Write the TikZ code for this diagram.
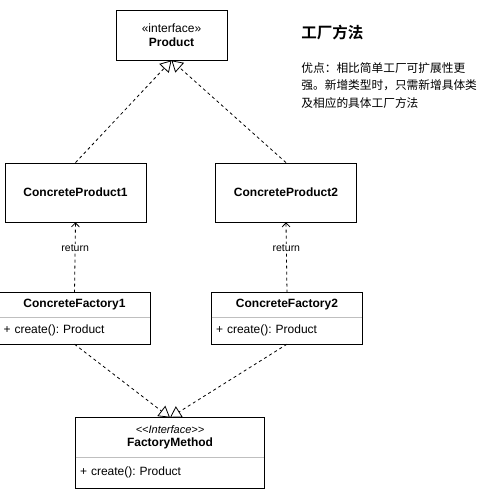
\documentclass[tikz,border=0pt]{standalone}
\usepackage{fontspec}
\setmainfont{Liberation Sans}
\newfontfamily\cjk[BoldFont={Noto Sans CJK SC Bold}]{Noto Sans CJK SC}
\usetikzlibrary{arrows.meta,positioning}
\frenchspacing

\begin{document}
\begin{tikzpicture}[x=1pt,y=-1pt,line width=0.8pt,
    txt/.style={font=\fontsize{12}{13.5}\selectfont},
    bf/.style={font=\fontsize{12}{13.5}\selectfont\bfseries},
    box/.style={draw,minimum width=141pt,minimum height=59pt,inner sep=0pt,bf},
    head/.style={minimum width=150pt,minimum height=24pt,inner sep=0pt,bf},
    body/.style={below=0pt of #1,minimum width=150pt,minimum height=26pt,text width=142pt,
      inner xsep=4pt,inner ysep=0pt,align=left,txt},
    impl/.style={dash pattern=on 3pt off 3pt,-{Triangle[open,length=11pt,width=13pt]}},
    ret/.style={dash pattern=on 3pt off 3pt,-{Straight Barb[length=4pt,width=8pt]}}]
      \useasboundingbox (0,0) rectangle (487,489);
      % interface on top
      \node[draw,minimum width=111pt,minimum height=50pt,inner sep=0pt,align=center,txt]
        (product) at (171.5,35) {«interface»\\\textbf{Product}};
      \node[box] (cp1) at (75.5,192.5) {ConcreteProduct1};
      \node[box] (cp2) at (286,192.5) {ConcreteProduct2};
      % factories
      \node[head] (cf1) at (74.5,305) {ConcreteFactory1};
      \node[body=cf1] (cf1b) {+ create(): Product};
      \node[head] (cf2) at (287,305) {ConcreteFactory2};
      \node[body=cf2] (cf2b) {+ create(): Product};
      \foreach \n in {cf1,cf2}{
        \draw (\n.north west) rectangle (\n b.south east);
        \draw[gray!50] (\n.south west) -- (\n.south east);
      }
      \node[head,minimum width=188pt,minimum height=39pt,align=center] (fm) at (170,437.5)
        {{\fontsize{11}{13}\selectfont\mdseries\itshape <{}<Interface>{}>}\\FactoryMethod};
      \node[body=fm,minimum width=188pt,minimum height=30pt,text width=180pt] (fmb) {+ create(): Product};
      \draw (fm.north west) rectangle (fmb.south east);
      \draw[gray!50] (fm.south west) -- (fm.south east);
      % connectors
      \draw[impl] (cp1.north) -- (product.south);
      \draw[impl] (cp2.north) -- (product.south);
      \draw[impl] (cf1b.south) -- (fm.north);
      \draw[impl] (cf2b.south) -- (fm.north);
      \draw[ret] (cf1.north) -- (cp1.south)
        node[pos=0.63,fill=white,inner sep=1pt,font=\fontsize{10.5}{12}\selectfont]{return};
      \draw[ret] (cf2.north) -- (cp2.south)
        node[pos=0.63,fill=white,inner sep=1pt,font=\fontsize{10.5}{12}\selectfont]{return};
      % note
      \node[anchor=west,inner sep=0pt,font=\cjk\bfseries\fontsize{15.5}{18}\selectfont] (title) at (301,33) {工厂方法};
      \node[anchor=north west,align=left,inner sep=0pt,font=\cjk\fontsize{11.7}{17.5}\selectfont]
        (note) at (301,62) {优点：相比简单工厂可扩展性更\\强。新增类型时，只需新增具体类\\及相应的具体工厂方法};
    \end{tikzpicture}
\end{document}
